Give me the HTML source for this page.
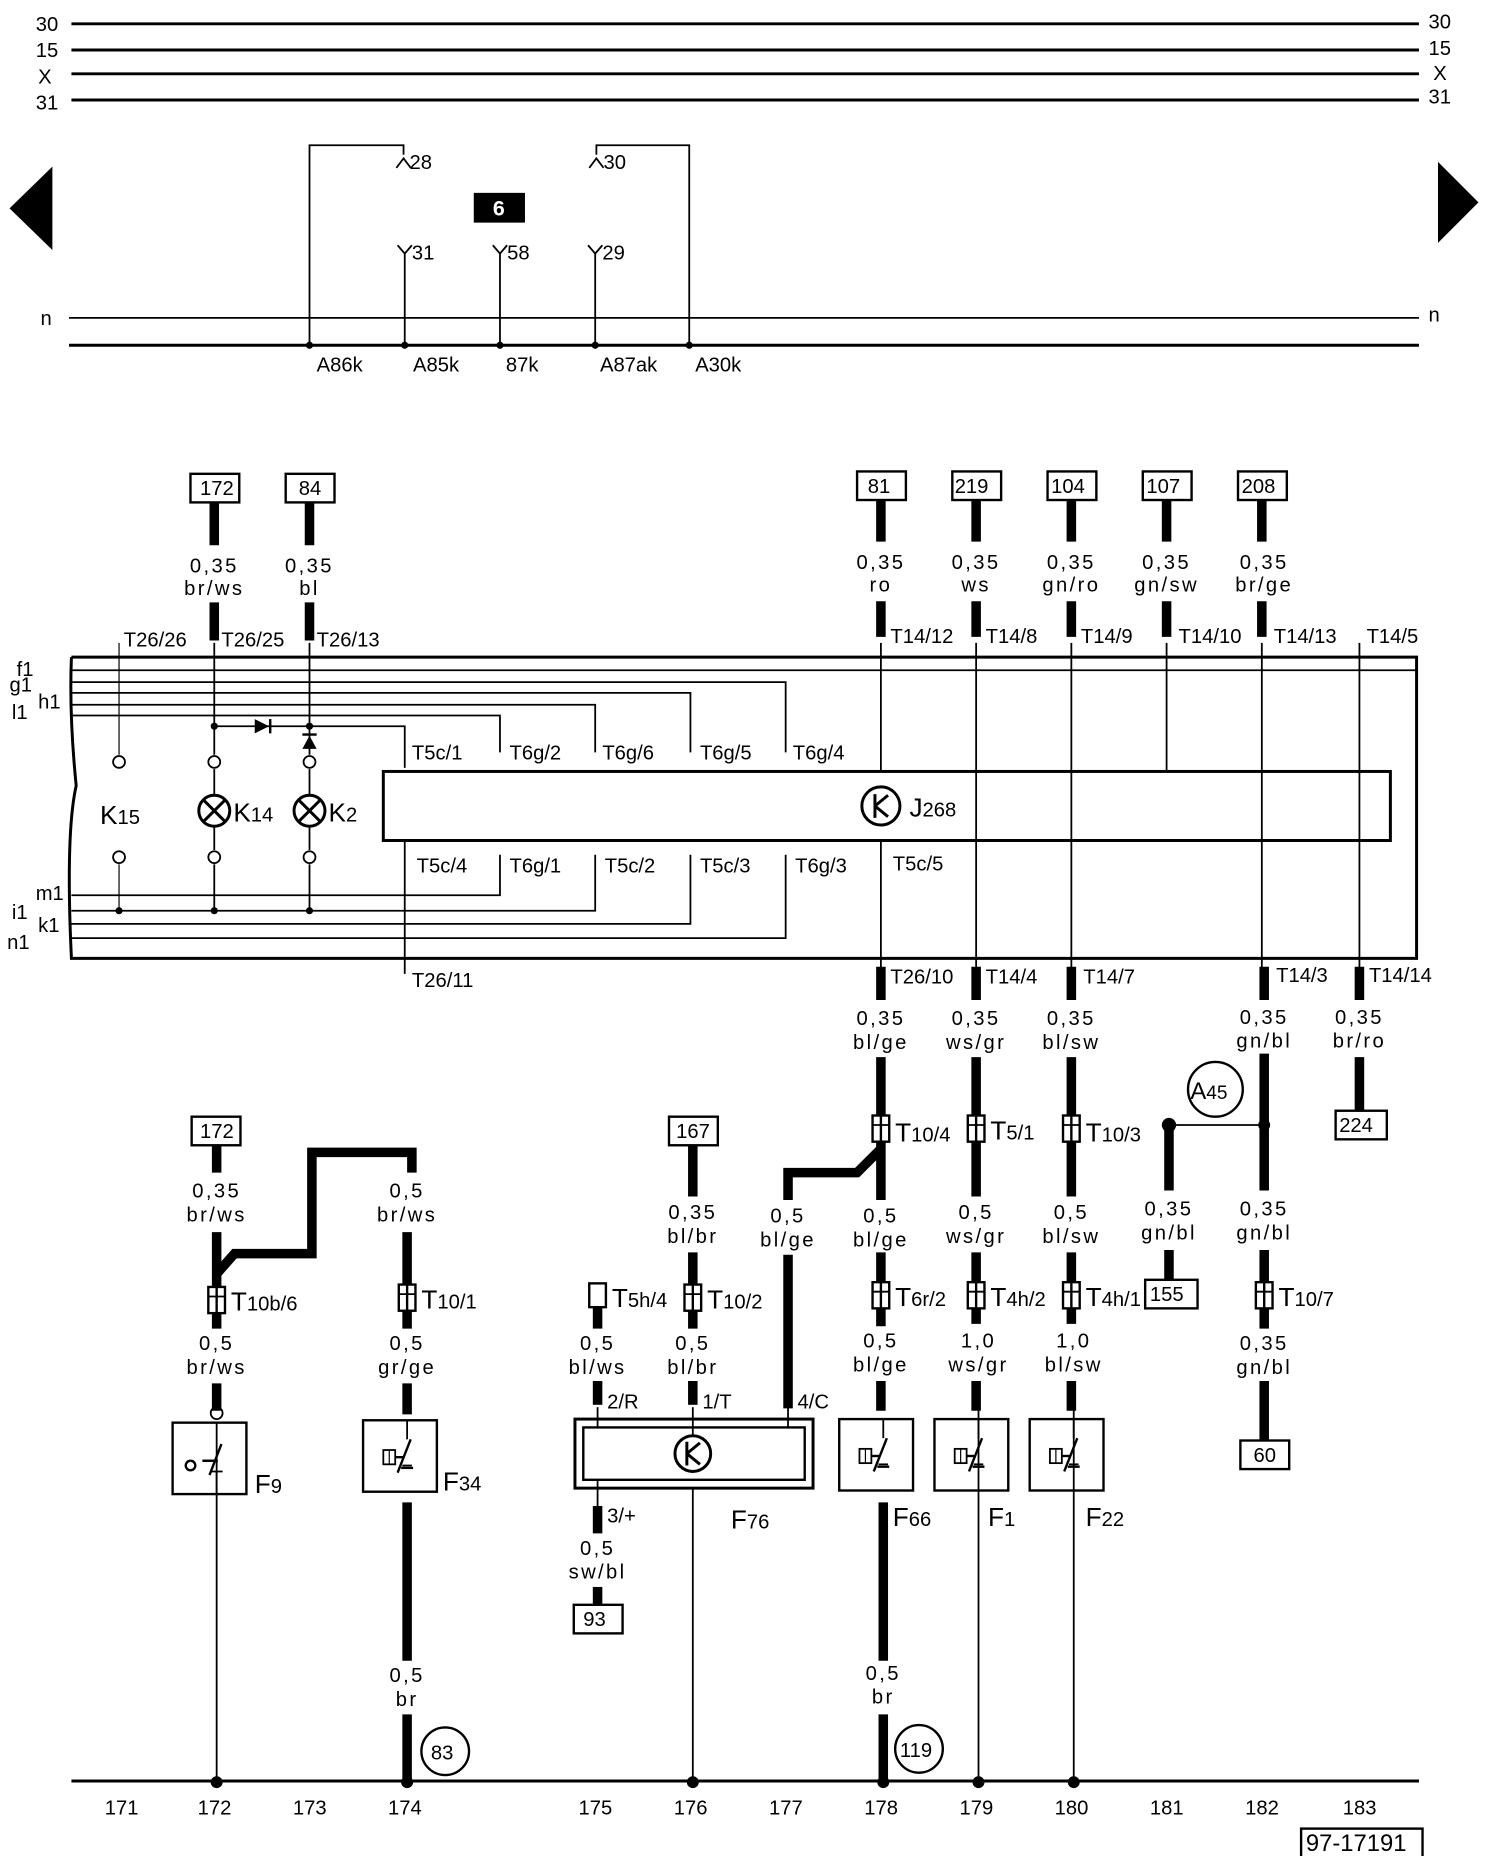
<!DOCTYPE html>
<html><head><meta charset="utf-8"><style>
html,body{margin:0;padding:0;background:#fff}
svg{display:block}
text{font-family:"Liberation Sans",sans-serif;fill:#000}
.s{font-size:17px}
.w{font-size:17px;letter-spacing:2px}
.l{font-size:22px}
</style></head><body>
<svg width="1488" height="1856" viewBox="0 0 1250 1559" preserveAspectRatio="none" xmlns="http://www.w3.org/2000/svg">
<defs>
<g id="c"><rect x="-7" y="-11" width="14" height="22" fill="#fff" stroke="#000" stroke-width="2"/><line x1="0" y1="-11" x2="0" y2="11" stroke="#000" stroke-width="2"/><line x1="-7" y1="-3" x2="7" y2="-3" stroke="#000" stroke-width="1.5"/></g>
<g id="sw"><rect x="-37" y="0" width="62" height="60" fill="none" stroke="#000" stroke-width="2"/><line x1="0" y1="0" x2="0" y2="16" stroke="#000" stroke-width="1.5"/><line x1="-8" y1="44" x2="3" y2="16" stroke="#000" stroke-width="2"/><line x1="-4" y1="38" x2="4" y2="38" stroke="#000" stroke-width="1.5"/><line x1="-5" y1="40" x2="5" y2="40" stroke="#000" stroke-width="2"/><rect x="-20" y="25" width="10" height="12" fill="none" stroke="#000" stroke-width="1.5"/><line x1="-15" y1="25" x2="-15" y2="37" stroke="#000" stroke-width="1"/><line x1="-10" y1="31" x2="-3" y2="31" stroke="#000" stroke-width="2"/></g>
</defs>
<g stroke="#000" fill="none">
<line x1="60" y1="20" x2="1192" y2="20" stroke-width="2.5"/>
<line x1="60" y1="42" x2="1192" y2="42" stroke-width="2.5"/>
<line x1="60" y1="62" x2="1192" y2="62" stroke-width="2.5"/>
<line x1="60" y1="84" x2="1192" y2="84" stroke-width="2.5"/>
<line x1="58" y1="267" x2="1192" y2="267" stroke-width="1.5"/>
<line x1="58" y1="290" x2="1192" y2="290" stroke-width="2.5"/>
<polyline points="260,290 260,122 339,122 339,130" stroke-width="1.5"/>
<polyline points="501,130 501,122 579,122 579,290" stroke-width="1.5"/>
<path d="M333,141 L339,133 L345,141" stroke-width="1.5"/>
<path d="M495,141 L501,133 L507,141" stroke-width="1.5"/>
<path d="M334,206 L340,213 L346,206 M340,213 V290" stroke-width="1.5"/>
<path d="M414,206 L420,213 L426,206 M420,213 V290" stroke-width="1.5"/>
<path d="M494,206 L500,213 L506,206 M500,213 V290" stroke-width="1.5"/>
<path d="M60,552 H1190 V805 H60 Q55,700 64,660 Q58,600 60,552" stroke-width="2.5"/>
<line x1="60" y1="563" x2="1190" y2="563" stroke-width="1.5"/>
<polyline points="60,573 660,573 660,632" stroke-width="1.5"/>
<polyline points="60,582 580,582 580,632" stroke-width="1.5"/>
<polyline points="60,592 500,592 500,632" stroke-width="1.5"/>
<polyline points="60,601 420,601 420,632" stroke-width="1.5"/>
<polyline points="180,610 340,610 340,645" stroke-width="1.5"/>
<polyline points="60,752 420,752 420,718" stroke-width="1.5"/>
<polyline points="60,765 500,765 500,718" stroke-width="1.5"/>
<polyline points="60,776 580,776 580,718" stroke-width="1.5"/>
<polyline points="60,788 660,788 660,718" stroke-width="1.5"/>
<line x1="340" y1="706" x2="340" y2="818" stroke-width="1.5"/>
<rect x="322" y="648" width="846" height="58" stroke-width="2.5"/>
<circle cx="740" cy="677" r="16" stroke-width="2.5"/>
<path d="M735,667 V687 M735,677 L746,668 M735,677 L746,686" stroke-width="2.5"/>
<line x1="100" y1="540" x2="100" y2="634" stroke-width="1"/>
<circle cx="100" cy="640" r="5" stroke-width="1.5"/>
<circle cx="100" cy="720" r="5" stroke-width="1.5"/>
<line x1="100" y1="726" x2="100" y2="765" stroke-width="1"/>
<line x1="180" y1="540" x2="180" y2="634" stroke-width="1.5"/>
<circle cx="180" cy="640" r="5" stroke-width="1.5"/>
<line x1="180" y1="646" x2="180" y2="668" stroke-width="1.5"/>
<circle cx="180" cy="681" r="13" stroke-width="2.5"/>
<path d="M171,672 L189,690 M189,672 L171,690" stroke-width="2.5"/>
<line x1="180" y1="694" x2="180" y2="714" stroke-width="1.5"/>
<circle cx="180" cy="720" r="5" stroke-width="1.5"/>
<line x1="180" y1="726" x2="180" y2="765" stroke-width="1.5"/>
<line x1="260" y1="540" x2="260" y2="634" stroke-width="1.5"/>
<circle cx="260" cy="640" r="5" stroke-width="1.5"/>
<line x1="260" y1="646" x2="260" y2="668" stroke-width="1.5"/>
<circle cx="260" cy="681" r="13" stroke-width="2.5"/>
<path d="M251,672 L269,690 M269,672 L251,690" stroke-width="2.5"/>
<line x1="260" y1="694" x2="260" y2="714" stroke-width="1.5"/>
<circle cx="260" cy="720" r="5" stroke-width="1.5"/>
<line x1="260" y1="726" x2="260" y2="765" stroke-width="1.5"/>
<line x1="740" y1="540" x2="740" y2="648" stroke-width="1.5"/>
<line x1="740" y1="706" x2="740" y2="818" stroke-width="1.5"/>
<line x1="820" y1="540" x2="820" y2="818" stroke-width="1.5"/>
<line x1="900" y1="540" x2="900" y2="818" stroke-width="1.5"/>
<line x1="980" y1="540" x2="980" y2="648" stroke-width="1.5"/>
<line x1="1060" y1="540" x2="1060" y2="818" stroke-width="1.5"/>
<line x1="1142" y1="540" x2="1142" y2="818" stroke-width="1.5"/>
<g stroke-width="2" fill="#fff">
<rect x="160" y="398" width="41" height="24"/><rect x="240" y="398" width="41" height="24"/>
<rect x="720" y="396" width="41" height="24"/><rect x="800" y="396" width="41" height="24"/><rect x="880" y="396" width="41" height="24"/><rect x="960" y="396" width="41" height="24"/><rect x="1040" y="396" width="41" height="24"/>
<rect x="1122" y="933" width="43" height="24"/>
<rect x="161" y="938" width="41" height="24"/><rect x="562" y="938" width="41" height="24"/>
<rect x="962" y="1075" width="44" height="24"/><rect x="1042" y="1210" width="41" height="24"/><rect x="482" y="1348" width="41" height="24"/>
<rect x="1093" y="1536" width="102" height="24"/>
</g>
<line x1="182" y1="1195" x2="182" y2="1496" stroke-width="1.5"/>
<line x1="582" y1="1250" x2="582" y2="1496" stroke-width="1.5"/>
<line x1="822" y1="1180" x2="822" y2="1496" stroke-width="1.5"/>
<line x1="902" y1="1180" x2="902" y2="1496" stroke-width="1.5"/>
<line x1="982" y1="945" x2="1062" y2="945" stroke-width="1.5"/>
<circle cx="1021" cy="915" r="23" stroke-width="2"/>
<circle cx="374" cy="1471" r="20" stroke-width="2"/>
<circle cx="772" cy="1469" r="20" stroke-width="2"/>
<rect x="483" y="1192" width="200" height="58" stroke-width="2.5"/>
<rect x="490" y="1199" width="186" height="44" stroke-width="2"/>
<circle cx="582" cy="1221" r="15" stroke-width="2.5"/>
<path d="M577,1211 V1231 M577,1221 L588,1212 M577,1221 L588,1230" stroke-width="2.5"/>
<line x1="502" y1="1182" x2="502" y2="1199" stroke-width="1.5"/>
<line x1="582" y1="1182" x2="582" y2="1206" stroke-width="1.5"/>
<line x1="662" y1="1182" x2="662" y2="1199" stroke-width="1.5"/>
<line x1="502" y1="1243" x2="502" y2="1265" stroke-width="1.5"/>
<rect x="145" y="1195" width="62" height="60" stroke-width="2"/>
<circle cx="182" cy="1187" r="5" stroke-width="1.5"/>
<path d="M176,1239 L186,1213 M170,1227 H183 M160,1227 a4,4 0 1,0 0.1,0" stroke-width="2"/>
<path d="M182,1255 V1236 M177,1236 H187" stroke-width="1.5"/>
<line x1="60" y1="1496" x2="1192" y2="1496" stroke-width="2.5"/>
</g>
<use href="#sw" x="342" y="1193"/>
<use href="#sw" x="742" y="1192"/>
<use href="#sw" x="822" y="1192"/>
<use href="#sw" x="902" y="1192"/>
<g stroke="#000" stroke-width="8" fill="none">
<line x1="180" y1="422" x2="180" y2="458"/><line x1="180" y1="506" x2="180" y2="538"/>
<line x1="260" y1="422" x2="260" y2="458"/><line x1="260" y1="506" x2="260" y2="538"/>
<line x1="740" y1="420" x2="740" y2="455"/><line x1="740" y1="505" x2="740" y2="535"/>
<line x1="820" y1="420" x2="820" y2="455"/><line x1="820" y1="505" x2="820" y2="535"/>
<line x1="900" y1="420" x2="900" y2="455"/><line x1="900" y1="505" x2="900" y2="535"/>
<line x1="980" y1="420" x2="980" y2="455"/><line x1="980" y1="505" x2="980" y2="535"/>
<line x1="1060" y1="420" x2="1060" y2="455"/><line x1="1060" y1="505" x2="1060" y2="535"/>
<line x1="740" y1="812" x2="740" y2="840"/><line x1="820" y1="812" x2="820" y2="840"/><line x1="900" y1="812" x2="900" y2="840"/><line x1="1062" y1="812" x2="1062" y2="840"/><line x1="1142" y1="812" x2="1142" y2="840"/>
<line x1="740" y1="888" x2="740" y2="1008"/><line x1="820" y1="888" x2="820" y2="1005"/><line x1="900" y1="888" x2="900" y2="1005"/>
<line x1="1142" y1="888" x2="1142" y2="933"/>
<line x1="1062" y1="885" x2="1062" y2="1000"/><line x1="982" y1="945" x2="982" y2="1000"/>
<line x1="982" y1="1050" x2="982" y2="1075"/><line x1="1062" y1="1050" x2="1062" y2="1080"/><line x1="1062" y1="1096" x2="1062" y2="1116"/><line x1="1062" y1="1160" x2="1062" y2="1210"/>
<line x1="182" y1="962" x2="182" y2="985"/><line x1="182" y1="1035" x2="182" y2="1116"/><line x1="182" y1="1162" x2="182" y2="1185"/>
<polyline points="182,1070 197,1053 262,1053 262,968 346,968 346,985" />
<line x1="342" y1="1035" x2="342" y2="1116"/><line x1="342" y1="1162" x2="342" y2="1188"/>
<line x1="342" y1="1262" x2="342" y2="1395"/><line x1="342" y1="1440" x2="342" y2="1496"/>
<line x1="582" y1="962" x2="582" y2="1005"/><line x1="582" y1="1052" x2="582" y2="1116"/><line x1="582" y1="1160" x2="582" y2="1180"/>
<line x1="502" y1="1096" x2="502" y2="1116"/><line x1="502" y1="1160" x2="502" y2="1180"/>
<polyline points="662,1008 662,985 720,985 740,965"/>
<line x1="662" y1="1054" x2="662" y2="1183"/>
<line x1="740" y1="1052" x2="740" y2="1114"/><line x1="740" y1="1160" x2="740" y2="1185"/>
<line x1="820" y1="1052" x2="820" y2="1112"/><line x1="820" y1="1160" x2="820" y2="1185"/>
<line x1="900" y1="1052" x2="900" y2="1112"/><line x1="900" y1="1160" x2="900" y2="1185"/>
<line x1="502" y1="1265" x2="502" y2="1288"/><line x1="502" y1="1333" x2="502" y2="1348"/>
<line x1="742" y1="1262" x2="742" y2="1395"/><line x1="742" y1="1440" x2="742" y2="1496"/>
</g>
<use href="#c" x="182" y="1092"/><use href="#c" x="342" y="1090"/><use href="#c" x="582" y="1090"/>
<use href="#c" x="740" y="948"/><use href="#c" x="820" y="948"/><use href="#c" x="900" y="948"/>
<use href="#c" x="740" y="1088"/><use href="#c" x="820" y="1088"/><use href="#c" x="900" y="1088"/><use href="#c" x="1062" y="1088"/>
<rect x="495" y="1078" width="14" height="20" fill="#fff" stroke="#000" stroke-width="2"/>
<g fill="#000">
<circle cx="182" cy="1497" r="5"/><circle cx="342" cy="1497" r="5"/><circle cx="582" cy="1497" r="5"/><circle cx="742" cy="1497" r="5"/><circle cx="822" cy="1497" r="5"/><circle cx="902" cy="1497" r="5"/>
<circle cx="982" cy="945" r="6"/><circle cx="1062" cy="945" r="5"/>
<circle cx="180" cy="610" r="3"/><circle cx="260" cy="610" r="3"/><circle cx="100" cy="765" r="3"/><circle cx="180" cy="765" r="3"/><circle cx="260" cy="765" r="3"/>
<circle cx="260" cy="290" r="3"/><circle cx="340" cy="290" r="3"/><circle cx="420" cy="290" r="3"/><circle cx="500" cy="290" r="3"/><circle cx="579" cy="290" r="3"/>
<polygon points="214,604 214,616 226,610"/><rect x="226" y="604" width="2" height="12"/>
<polygon points="254,629 266,629 260,618"/><rect x="254" y="616" width="12" height="2"/>
<polygon points="8,175 44,140 44,210"/><polygon points="1242,170 1208,136 1208,204"/>
<rect x="398" y="162" width="43" height="25"/>
</g>
<g class="s">
<text x="30" y="26">30</text><text x="30" y="48">15</text><text x="32" y="70">X</text><text x="30" y="92">31</text>
<text x="1200" y="24">30</text><text x="1200" y="46">15</text><text x="1204" y="67">X</text><text x="1200" y="87">31</text>
<text x="34" y="273">n</text><text x="1200" y="270">n</text>
<text x="344" y="142">28</text><text x="507" y="142">30</text><text x="346" y="218">31</text><text x="426" y="218">58</text><text x="506" y="218">29</text>
<text x="266" y="312">A86k</text><text x="347" y="312">A85k</text><text x="425" y="312">87k</text><text x="504" y="312">A87ak</text><text x="584" y="312">A30k</text>
<text x="168" y="416">172</text><text x="251" y="416">84</text>
<text x="729" y="414">81</text><text x="802" y="414">219</text><text x="883" y="414">104</text><text x="963" y="414">107</text><text x="1043" y="414">208</text>
<text x="104" y="543">T26/26</text><text x="186" y="543">T26/25</text><text x="266" y="543">T26/13</text>
<text x="748" y="540">T14/12</text><text x="828" y="540">T14/8</text><text x="908" y="540">T14/9</text><text x="990" y="540">T14/10</text><text x="1070" y="540">T14/13</text><text x="1148" y="540">T14/5</text>
<text x="346" y="638">T5c/1</text><text x="428" y="638">T6g/2</text><text x="506" y="638">T6g/6</text><text x="588" y="638">T6g/5</text><text x="666" y="638">T6g/4</text>
<text x="350" y="733">T5c/4</text><text x="428" y="733">T6g/1</text><text x="508" y="733">T5c/2</text><text x="588" y="733">T5c/3</text><text x="668" y="733">T6g/3</text><text x="750" y="731">T5c/5</text>
<text x="346" y="829">T26/11</text><text x="748" y="826">T26/10</text><text x="828" y="826">T14/4</text><text x="910" y="826">T14/7</text><text x="1072" y="825">T14/3</text><text x="1150" y="825">T14/14</text>
<text x="14" y="568">f1</text><text x="8" y="581">g1</text><text x="32" y="595">h1</text><text x="10" y="604">l1</text>
<text x="30" y="756">m1</text><text x="10" y="772">i1</text><text x="32" y="783">k1</text><text x="6" y="797">n1</text>
<text x="168" y="956">172</text><text x="568" y="956">167</text><text x="1125" y="951">224</text><text x="966" y="1093">155</text><text x="1053" y="1228">60</text><text x="490" y="1366">93</text>
<text x="510" y="1183">2/R</text><text x="590" y="1183">1/T</text><text x="670" y="1183">4/C</text><text x="510" y="1279">3/+</text>
<text x="362" y="1478">83</text><text x="756" y="1476">119</text>
<text x="88" y="1524">171</text><text x="166" y="1524">172</text><text x="246" y="1524">173</text><text x="326" y="1524">174</text><text x="486" y="1524">175</text><text x="566" y="1524">176</text><text x="646" y="1524">177</text><text x="726" y="1524">178</text><text x="806" y="1524">179</text><text x="886" y="1524">180</text><text x="966" y="1524">181</text><text x="1046" y="1524">182</text><text x="1128" y="1524">183</text>
<text x="1097" y="1555" style="font-size:20px">97-17191</text>
</g>
<text x="414" y="181" style="font-size:18px;fill:#fff;font-weight:bold">6</text>
<g class="w" text-anchor="middle">
<text x="180" y="481">0,35</text><text x="180" y="500">br/ws</text>
<text x="260" y="481">0,35</text><text x="260" y="500">bl</text>
<text x="740" y="478">0,35</text><text x="740" y="497">ro</text>
<text x="820" y="478">0,35</text><text x="820" y="497">ws</text>
<text x="900" y="478">0,35</text><text x="900" y="497">gn/ro</text>
<text x="980" y="478">0,35</text><text x="980" y="497">gn/sw</text>
<text x="1062" y="478">0,35</text><text x="1062" y="497">br/ge</text>
<text x="740" y="861">0,35</text><text x="740" y="881">bl/ge</text>
<text x="820" y="861">0,35</text><text x="820" y="881">ws/gr</text>
<text x="900" y="861">0,35</text><text x="900" y="881">bl/sw</text>
<text x="1062" y="860">0,35</text><text x="1062" y="880">gn/bl</text>
<text x="1142" y="860">0,35</text><text x="1142" y="880">br/ro</text>
<text x="182" y="1006">0,35</text><text x="182" y="1026">br/ws</text>
<text x="342" y="1006">0,5</text><text x="342" y="1026">br/ws</text>
<text x="582" y="1024">0,35</text><text x="582" y="1044">bl/br</text>
<text x="662" y="1027">0,5</text><text x="662" y="1047">bl/ge</text>
<text x="740" y="1027">0,5</text><text x="740" y="1047">bl/ge</text>
<text x="820" y="1024">0,5</text><text x="820" y="1044">ws/gr</text>
<text x="900" y="1024">0,5</text><text x="900" y="1044">bl/sw</text>
<text x="982" y="1021">0,35</text><text x="982" y="1041">gn/bl</text>
<text x="1062" y="1021">0,35</text><text x="1062" y="1041">gn/bl</text>
<text x="182" y="1134">0,5</text><text x="182" y="1154">br/ws</text>
<text x="342" y="1134">0,5</text><text x="342" y="1154">gr/ge</text>
<text x="502" y="1134">0,5</text><text x="502" y="1154">bl/ws</text>
<text x="582" y="1134">0,5</text><text x="582" y="1154">bl/br</text>
<text x="740" y="1132">0,5</text><text x="740" y="1152">bl/ge</text>
<text x="822" y="1132">1,0</text><text x="822" y="1152">ws/gr</text>
<text x="902" y="1132">1,0</text><text x="902" y="1152">bl/sw</text>
<text x="1062" y="1134">0,35</text><text x="1062" y="1154">gn/bl</text>
<text x="502" y="1306">0,5</text><text x="502" y="1326">sw/bl</text>
<text x="342" y="1413">0,5</text><text x="342" y="1433">br</text>
<text x="742" y="1411">0,5</text><text x="742" y="1431">br</text>
</g>
<g class="l">
<text x="84" y="692">K<tspan font-size="17">15</tspan></text>
<text x="196" y="690">K<tspan font-size="17">14</tspan></text>
<text x="276" y="690">K<tspan font-size="17">2</tspan></text>
<text x="764" y="686">J<tspan font-size="17">268</tspan></text>
<text x="1000" y="923" style="font-size:20px">A<tspan font-size="16">45</tspan></text>
<text x="194" y="1101">T<tspan font-size="17">10b/6</tspan></text>
<text x="354" y="1099">T<tspan font-size="17">10/1</tspan></text>
<text x="514" y="1098">T<tspan font-size="17">5h/4</tspan></text>
<text x="594" y="1099">T<tspan font-size="17">10/2</tspan></text>
<text x="752" y="959">T<tspan font-size="17">10/4</tspan></text>
<text x="832" y="957">T<tspan font-size="17">5/1</tspan></text>
<text x="912" y="959">T<tspan font-size="17">10/3</tspan></text>
<text x="752" y="1097">T<tspan font-size="17">6r/2</tspan></text>
<text x="832" y="1097">T<tspan font-size="17">4h/2</tspan></text>
<text x="912" y="1097">T<tspan font-size="17">4h/1</tspan></text>
<text x="1074" y="1097">T<tspan font-size="17">10/7</tspan></text>
<text x="214" y="1254">F<tspan font-size="17">9</tspan></text>
<text x="372" y="1252">F<tspan font-size="17">34</tspan></text>
<text x="614" y="1284">F<tspan font-size="17">76</tspan></text>
<text x="750" y="1282">F<tspan font-size="17">66</tspan></text>
<text x="830" y="1282">F<tspan font-size="17">1</tspan></text>
<text x="912" y="1282">F<tspan font-size="17">22</tspan></text>
</g>
</svg>
</body></html>
